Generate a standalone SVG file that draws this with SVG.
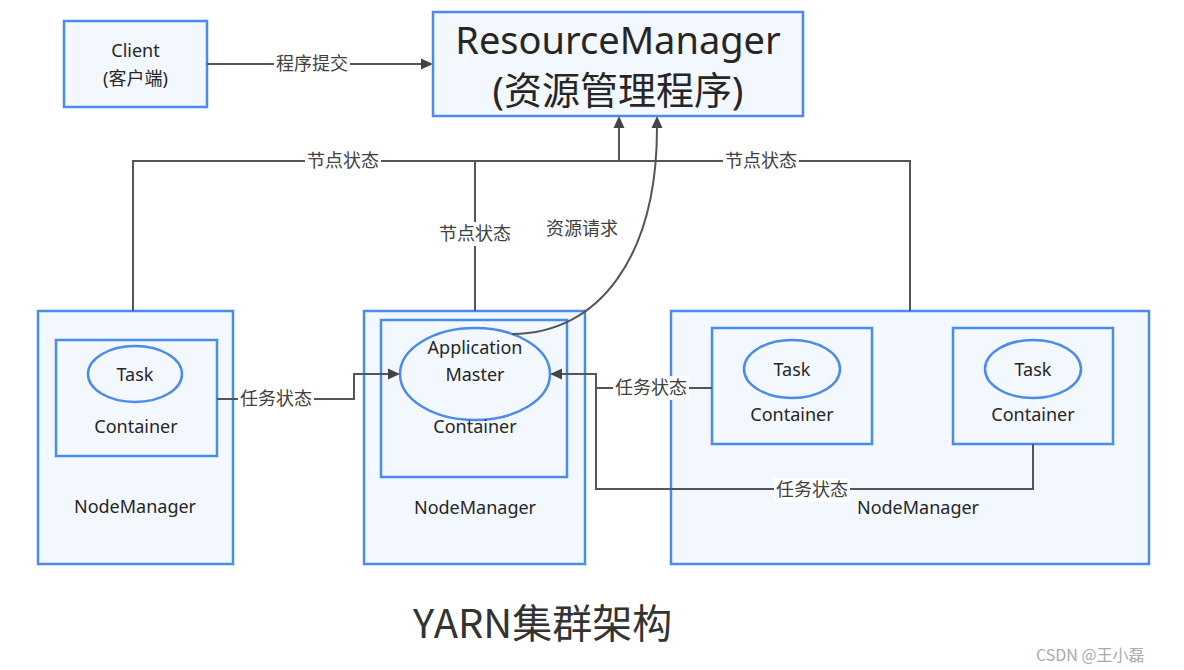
<svg xmlns="http://www.w3.org/2000/svg" width="1184" height="670" viewBox="0 0 1184 670">
<style>
.box{fill:#F3F7FE;stroke:#4A8CEB;stroke-width:2.5}
.ell{fill:#F3F7FE;stroke:#4A8CEB;stroke-width:2.5}
.t{font-family:"Noto Sans","Noto Sans CJK SC",sans-serif;fill:#262626;text-anchor:middle}
.n{font-size:18px}
.lbl{font-family:"Noto Sans CJK SC","Noto Sans",sans-serif;font-size:18px;fill:#404040;text-anchor:middle}
.lb{fill:#FFFFFF}
.c{fill:none;stroke:#555555;stroke-width:2}
</style>
<defs>
<marker id="arr" markerUnits="userSpaceOnUse" markerWidth="12" markerHeight="12" viewBox="0 0 12 12" refX="0" refY="6" orient="auto">
<path d="M0,0.5 L12,6 L0,11.5 z" fill="#444444"/>
</marker>
</defs>
<rect width="1184" height="670" fill="#FFFFFF"/>

<g id="client">
<rect class="box" x="64" y="21" width="143" height="86"/>
<text class="t" x="135.5" y="57" font-size="18">Client</text>
<text class="t" x="135.5" y="85" font-size="18">(客户端)</text>
</g>

<g id="resourcemanager">
<rect class="box" x="433" y="12" width="370" height="104"/>
<text class="t" x="618" y="54" font-size="38">ResourceManager</text>
<text class="t" x="618" y="104" font-size="38">(资源管理程序)</text>
</g>

<g id="nodemanager1">
<rect class="box" x="38" y="311" width="195" height="253"/>
<rect class="box" x="56" y="340" width="161" height="116"/>
<ellipse class="ell" cx="135" cy="374" rx="47" ry="28"/>
<text class="t n" x="135" y="381">Task</text>
<text class="t n" x="136" y="433">Container</text>
<text class="t n" x="135" y="513">NodeManager</text>
</g>

<g id="nodemanager2">
<rect class="box" x="364" y="311" width="221" height="253"/>
<rect class="box" x="381" y="320" width="186" height="157"/>
<ellipse class="ell" cx="475" cy="374" rx="75" ry="46"/>
<text class="t n" x="475" y="354">Application</text>
<text class="t n" x="475" y="381">Master</text>
<text class="t n" x="475" y="433">Container</text>
<text class="t n" x="475" y="514">NodeManager</text>
</g>

<g id="nodemanager3">
<rect class="box" x="671" y="311" width="478" height="253"/>
<rect class="box" x="712" y="328" width="160" height="116"/>
<ellipse class="ell" cx="792" cy="369" rx="48" ry="29"/>
<text class="t n" x="792" y="376">Task</text>
<text class="t n" x="792" y="421">Container</text>
<rect class="box" x="953" y="328" width="160" height="116"/>
<ellipse class="ell" cx="1033" cy="369" rx="48" ry="29"/>
<text class="t n" x="1033" y="376">Task</text>
<text class="t n" x="1033" y="421">Container</text>
<text class="t n" x="918" y="514">NodeManager</text>
</g>

<g id="connectors">
<path class="c" d="M207 64 H421" marker-end="url(#arr)"/>
<path class="c" d="M133 311 V161 H619 V128" marker-end="url(#arr)"/>
<path class="c" d="M910 311 V161 H619"/>
<path class="c" d="M475 311 V161"/>
<path class="c" d="M512 334 C600 334 657 255 657 128" marker-end="url(#arr)"/>
<path class="c" d="M217 399 H354 V374 H388" marker-end="url(#arr)"/>
<path class="c" d="M712 388 H596 V374 H562" marker-end="url(#arr)"/>
<path class="c" d="M1033 444 V489 H596 V388"/>

<rect class="lb" x="274" y="52" width="76" height="24"/>
<text class="lbl" x="312" y="70">程序提交</text>
<rect class="lb" x="305" y="149" width="76" height="24"/>
<text class="lbl" x="343" y="167">节点状态</text>
<rect class="lb" x="723" y="149" width="76" height="24"/>
<text class="lbl" x="761" y="167">节点状态</text>
<rect class="lb" x="437" y="222" width="76" height="24"/>
<text class="lbl" x="475" y="240">节点状态</text>
<text class="lbl" x="582" y="235">资源请求</text>
<rect class="lb" x="238" y="387" width="76" height="24"/>
<text class="lbl" x="276" y="405">任务状态</text>
<rect class="lb" x="613" y="376" width="76" height="24"/>
<text class="lbl" x="651" y="394">任务状态</text>
<rect class="lb" x="774" y="478" width="76" height="24"/>
<text class="lbl" x="812" y="496">任务状态</text>
</g>

<text x="413" y="638" font-family="Noto Sans CJK SC, Noto Sans, sans-serif" font-size="40" fill="#333333">YARN集群架构</text>
<text x="1036" y="661" font-family="Noto Sans CJK SC, Noto Sans, sans-serif" font-size="16" fill="#AAAAAA">CSDN @王小磊</text>
</svg>
